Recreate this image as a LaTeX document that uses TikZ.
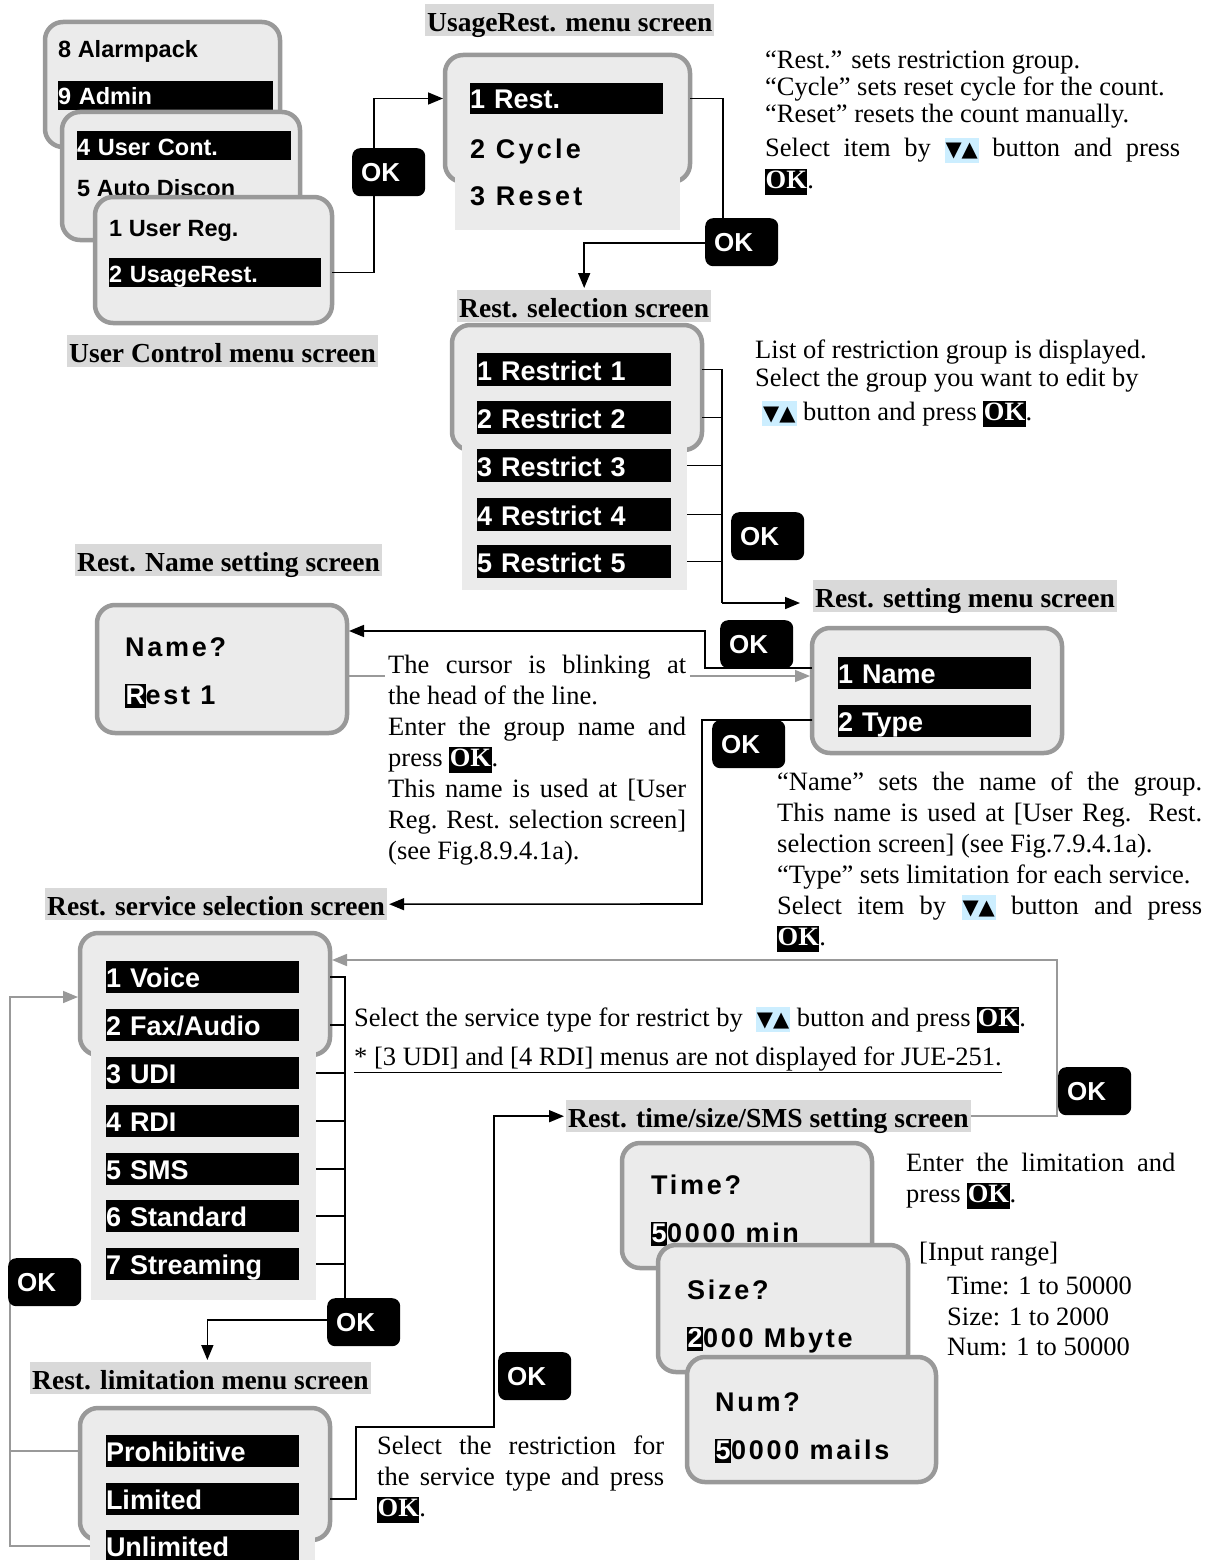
\documentclass[tikz,border=0pt]{standalone}
\usepackage{fontspec}
\setmainfont{Liberation Serif}
\setsansfont{Liberation Sans}
\newfontfamily\symfont{DejaVu Sans}
\usetikzlibrary{arrows.meta}
\definecolor{scrfill}{HTML}{EBEBEB}
\definecolor{scrline}{HTML}{999999}
\definecolor{titlebg}{HTML}{D9D9D9}
\definecolor{keybg}{HTML}{CCEEFF}
\newcommand{\okk}{{\setlength{\fboxsep}{0.5pt}\colorbox{black}{\rule[-6pt]{0pt}{25pt}\textcolor{white}{\bfseries OK}}}}
\newcommand{\updn}{{\setlength{\fboxsep}{1pt}\colorbox{keybg}{\rule[-5pt]{0pt}{23pt}\symfont\fontsize{21}{21}\selectfont ▼▲}}}
\newcommand{\cur}[1]{{\setlength{\fboxsep}{0.5pt}\colorbox{black}{\rule[-3pt]{0pt}{23pt}\textcolor{white}{#1}}}}
\newcommand{\pb}[3]{\parbox[t]{#1}{\fontsize{26.5}{#2}\selectfont #3}}
\begin{document}
\begin{tikzpicture}[x=1pt,y=-1pt,
  scr/.style={draw=scrline, line width=4.5pt, fill=scrfill, rounded corners=18pt, anchor=north west, inner sep=0pt, outer sep=0pt},
  ext/.style={fill=scrfill, anchor=north west, inner sep=0pt, outer sep=0pt},
  selbar/.style={fill=black, text=white, anchor=north west, inner sep=0pt, outer sep=0pt, text width=#1, align=left, minimum height=32pt, text height=21pt, text depth=0pt, font=\sffamily\bfseries\fontsize{27}{27}\selectfont},
  smallbar/.style={selbar=#1, minimum height=29pt, text height=19pt, font=\sffamily\bfseries\fontsize{23.5}{23.5}\selectfont},
  scrtxt/.style={anchor=base west, inner sep=0pt, font=\sffamily\bfseries\fontsize{23.5}{23.5}\selectfont},
  sptxt/.style={anchor=base west, inner sep=0pt, font=\sffamily\bfseries\fontsize{27}{27}\selectfont\addfontfeatures{LetterSpace=10}},
  spcyc/.style={anchor=base west, inner sep=0pt, font=\sffamily\bfseries\fontsize{27}{27}\selectfont\addfontfeatures{LetterSpace=12}},
  okbtn/.style={fill=black, text=white, rounded corners=8pt, anchor=north west, inner xsep=9pt, inner ysep=0pt, text width=55pt, minimum height=48pt, align=left, font=\sffamily\bfseries\fontsize{26}{26}\selectfont},
  ttl/.style={fill=titlebg, anchor=north west, inner xsep=2pt, inner ysep=0pt, text height=27pt, text depth=5pt, font=\bfseries\fontsize{27.5}{27.5}\selectfont},
  body/.style={anchor=base west, inner sep=0pt, font=\fontsize{26.5}{31}\selectfont},
  cl/.style={draw=black, line width=1.6pt},
  gl/.style={draw=scrline, line width=1.6pt},
  arr/.style={-{Triangle[length=15pt,width=12pt]}, shorten >=2pt}
]
\fill[white] (0,0) rectangle (1215,1560);
\useasboundingbox (0,0) rectangle (1215,1560);

% ---------- User Control menu screens
\node[scr, minimum width=235pt, minimum height=125pt] (sA) at (45,22) {};
\node[scrtxt] (tA1) at (58,58) {8 Alarmpack};
\node[smallbar=215pt] (bAdmin) at (58,81) {9 Admin};
\node[scr, minimum width=238pt, minimum height=128pt] (sB) at (62,112) {};
\node[smallbar=214pt] (bUC) at (77,131) {4 User Cont.};
\node[scrtxt] (tB2) at (77,196) {5 Auto Discon};
\node[scr, minimum width=237pt, minimum height=126pt] (sC) at (95,197) {};
\node[scrtxt] (tC1) at (109,236) {1 User Reg.};
\node[smallbar=212pt] (bUsage) at (109,258) {2 UsageRest.};
\node[ttl] (tUC) at (67,335) {User Control menu screen};

% ---------- UsageRest menu
\node[ttl] (tU) at (425,4) {UsageRest. menu screen};
\node[scr, minimum width=245pt, minimum height=127pt] (sU) at (445,55) {};
\node[ext, minimum width=225pt, minimum height=130pt] (eU) at (455,100) {};
\node[selbar=193pt, minimum height=31pt] (bRest) at (470,83) {1 Rest.};
\node[spcyc] (tU2) at (470,158) {2 Cycle};
\node[spcyc] (tU3) at (470,205) {3 Reset};

% ---------- Rest. selection
\node[ttl] (tRsel) at (457,290) {Rest. selection screen};
\node[scr, minimum width=250pt, minimum height=125pt] (sR) at (452,325) {};
\node[ext, minimum width=225pt, minimum height=220pt] (eR) at (462,370) {};
\node[selbar=194pt, minimum height=33pt] (bR1) at (477,353) {1 Restrict 1};
\node[selbar=194pt, minimum height=33pt] (bR2) at (477,401) {2 Restrict 2};
\node[selbar=194pt, minimum height=33pt] (bR3) at (477,449) {3 Restrict 3};
\node[selbar=194pt, minimum height=33pt] (bR4) at (477,498) {4 Restrict 4};
\node[selbar=194pt, minimum height=33pt] (bR5) at (477,545) {5 Restrict 5};

% ---------- Rest. setting menu
\node[ttl] (tS) at (813,580) {Rest. setting menu screen};
\node[scr, minimum width=250pt, minimum height=125pt] (sS) at (812,628) {};
\node[selbar=193pt] (bName) at (838,657) {1 Name};
\node[selbar=193pt] (bType) at (838,705) {2 Type};

% ---------- Rest. Name setting
\node[ttl] (tN) at (75,544) {Rest. Name setting screen};
\node[scr, minimum width=250pt, minimum height=128pt] (sN) at (97,605) {};
\node[sptxt] (tN1) at (125,656) {Name?};
\node[sptxt] (tN2) at (125,704) {\cur{R}est 1};

% ---------- Rest. service selection
\node[ttl] (tV) at (45,888) {Rest. service selection screen};
\node[scr, minimum width=250pt, minimum height=122pt] (sV) at (80,933) {};
\node[ext, minimum width=225pt, minimum height=310pt] (eV) at (91,990) {};
\node[selbar=193pt] (bV1) at (106,961) {1 Voice};
\node[selbar=193pt] (bV2) at (106,1009) {2 Fax/Audio};
\node[selbar=193pt] (bV3) at (106,1057) {3 UDI};
\node[selbar=193pt] (bV4) at (106,1105) {4 RDI};
\node[selbar=193pt] (bV5) at (106,1153) {5 SMS};
\node[selbar=193pt] (bV6) at (106,1200) {6 Standard};
\node[selbar=193pt] (bV7) at (106,1248) {7 Streaming};

% ---------- Rest. limitation menu
\node[ttl] (tL) at (30,1362) {Rest. limitation menu screen};
\node[scr, minimum width=250pt, minimum height=132pt] (sL) at (80,1408) {};
\node[ext, minimum width=225pt, minimum height=70pt] (eL) at (90,1500) {};
\node[selbar=193pt] (bProh) at (106,1435) {Prohibitive};
\node[selbar=193pt] (bLim) at (106,1483) {Limited};
\node[selbar=193pt] (bUnl) at (106,1530) {Unlimited};

% ---------- Time / Size / Num
\node[ttl] (tT) at (566,1100) {Rest. time/size/SMS setting screen};
\node[scr, minimum width=250pt, minimum height=125pt] (sTime) at (622,1143) {};
\node[sptxt] (tT1) at (651,1194) {Time?};
\node[sptxt] (tT2) at (651,1242) {\cur{5}0000 min};
\node[scr, minimum width=250pt, minimum height=127pt] (sSize) at (658,1245) {};
\node[sptxt] (tZ1) at (687,1299) {Size?};
\node[sptxt] (tZ2) at (687,1347) {\cur{2}000 Mbyte};
\node[scr, minimum width=249pt, minimum height=125pt] (sNum) at (687,1357) {};
\node[sptxt] (tM1) at (715,1411) {Num?};
\node[sptxt] (tM2) at (715,1459) {\cur{5}0000 mails};

% ---------- connectors
\coordinate (jR) at (722,603);
\coordinate (jN) at (705,631);
\coordinate (jT) at (702,904);
\coordinate (jV) at (345,1298);
\coordinate (jL) at (10,997);
\coordinate (jG) at (1057,960);
\coordinate (jK) at (494,1427);

\draw[cl,arr] (sC.east |- bUsage) -- ++(42,0) |- (sU.west |- bRest);
\draw[cl] (sU.east |- bRest) -| (723,218);
\draw[cl,arr] (705,243) -| (tRsel.north);

\draw[cl] (sR.east |- bR1) -| (jR);
\draw[cl] (sR.east |- bR2) -- (jR |- bR2);
\draw[cl] (eR.east |- bR3) -- (jR |- bR3);
\draw[cl] (eR.east |- bR4) -- (jR |- bR4);
\draw[cl] (eR.east |- bR5) -- (jR |- bR5);
\draw[cl,arr] (jR) -- ++(80,0);

\draw[cl,arr] (sS.west |- 0,668) -| (jN) -- (sN.east |- jN);
\draw[gl] (sN.east |- 0,676) -- (385,676);
\draw[gl,arr] (690,676) -- (sS.west |- 0,676);
\draw[cl,arr] (sS.west |- 0,720) -| (jT) -- (tV.east);

\draw[cl] (sV.east |- bV1) -| (jV);
\draw[cl] (sV.east |- bV2) -- (jV |- bV2);
\draw[cl] (eV.east |- bV3) -- (jV |- bV3);
\draw[cl] (eV.east |- bV4) -- (jV |- bV4);
\draw[cl] (eV.east |- bV5) -- (jV |- bV5);
\draw[cl] (eV.east |- bV6) -- (jV |- bV6);
\draw[cl] (eV.east |- bV7) -- (jV |- bV7);
\draw[cl,arr] (327,1320) -| ([xshift=7pt]tL.north);

\draw[gl,arr] (sL.west |- bProh) -| (jL) -- (sV.west |- jL);
\draw[gl] (eL.west |- bUnl) -| (jL);
\draw[gl,arr] (tT.east) -| (jG) -- (sV.east |- jG);
\draw[cl,arr] (sL.east |- bLim) -- ++(26,0) |- (jK) |- (tT.west);

% ---------- OK buttons
\node[okbtn] (ok1) at (352,148) {OK};
\node[okbtn] (ok2) at (705,218) {OK};
\node[okbtn] (ok3) at (731,512) {OK};
\node[okbtn] (ok4) at (720,620) {OK};
\node[okbtn] (ok5) at (712,720) {OK};
\node[okbtn] (ok6) at (327,1298) {OK};
\node[okbtn] (ok7) at (498,1352) {OK};
\node[okbtn] (ok8) at (1058,1067) {OK};
\node[okbtn] (ok9) at (8,1258) {OK};

% ---------- explanatory texts
\node[body] (x1) at (765,69) {\pb{430pt}{27pt}{“Rest.” sets restriction group.\\“Cycle” sets reset cycle for the count.\\“Reset” resets the count manually.}};
\node[body] (x1b) at (765,157) {\pb{415pt}{32pt}{Select item by \updn{} button and press\linebreak \okk.}};
\node[body] (x2) at (755,358) {\pb{430pt}{28pt}{List of restriction group is displayed.\\Select the group you want to edit by}};
\node[body] (x2b) at (762,420) {\updn{} button and press \okk.};
\node[body] (x3) at (388,673) {\pb{298pt}{31pt}{The cursor is blinking at\linebreak the head of the line.\\Enter the group name and\linebreak press \okk.\\This name is used at [User\linebreak Reg. Rest. selection screen]\linebreak (see Fig.8.9.4.1a).}};
\node[body] (x4) at (777,790) {\pb{425pt}{31pt}{“Name” sets the name of the group.\linebreak This name is used at [User Reg. Rest.\linebreak selection screen] (see Fig.7.9.4.1a).\\“Type” sets limitation for each service.\\Select item by \updn{} button and press\linebreak \okk.}};
\node[body] (x5) at (354,1026) {Select the service type for restrict by\enspace\updn{} button and press \okk.};
\node[body] (x6) at (354,1065) {\underline{* [3 UDI] and [4 RDI] menus are not displayed for JUE-251.}};
\node[body] (x7) at (906,1171) {\pb{269pt}{31pt}{Enter the limitation and\linebreak press \okk.}};
\node[body] (x8) at (919,1260) {[Input range]};
\node[body] (x9) at (947,1294) {Time: 1 to 50000};
\node[body] (x10) at (947,1325) {Size: 1 to 2000};
\node[body] (x11) at (947,1355) {Num: 1 to 50000};
\node[body] (x12) at (377,1454) {\pb{287pt}{31pt}{Select the restriction for\linebreak the service type and press\linebreak \okk.}};
\end{tikzpicture}
\end{document}
